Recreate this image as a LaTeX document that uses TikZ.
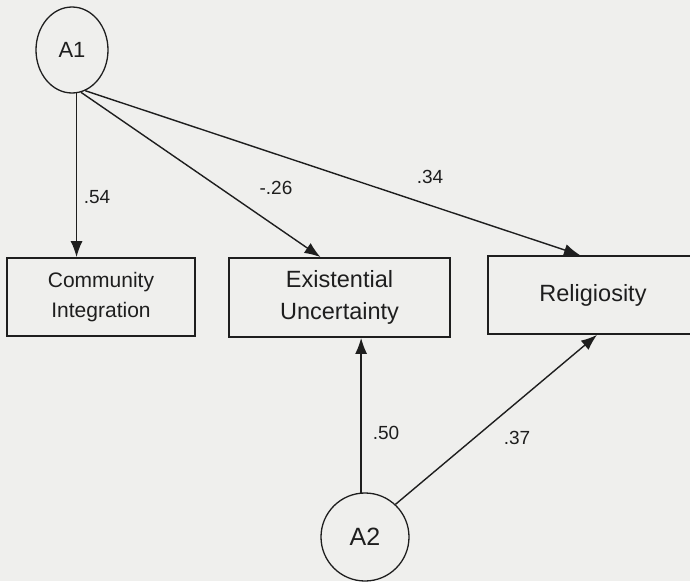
\documentclass[tikz,border=0pt]{standalone}
\usepackage{fontspec}
\setmainfont{Liberation Sans}
\usetikzlibrary{arrows.meta,shapes.geometric}
\definecolor{paper}{HTML}{EFEFED}
\definecolor{ink}{HTML}{1E1E1E}
\begin{document}
\begin{tikzpicture}[x=1pt,y=-1pt,
  latent/.style={draw=ink,line width=1.3pt,ellipse,inner sep=0pt,text=ink},
  measured/.style={draw=ink,line width=1.8pt,rectangle,inner sep=0pt,align=center,text=ink},
  path/.style={draw=ink,line width=1.4pt,-{Latex[length=16pt,width=12pt]}},
  coef/.style={text=ink,font=\fontsize{19}{19}\selectfont,inner sep=0pt}]
  % page
  \fill[paper] (0,0) rectangle (690,581);
  \useasboundingbox (0,0) rectangle (690,581);

  % latent factors
  \node[latent,minimum width=72pt,minimum height=86pt,font=\fontsize{22}{22}\selectfont] (A1) at (72,50) {A1};
  \node[latent,minimum width=88pt,minimum height=88pt,font=\fontsize{25}{25}\selectfont] (A2) at (365,537) {A2};

  % observed variables
  \node[measured,minimum width=188pt,minimum height=78pt,font=\fontsize{21}{30}\selectfont] (com) at (101,297) {Community\\Integration};
  \node[measured,minimum width=221pt,minimum height=79pt,font=\fontsize{23.5}{32}\selectfont] (ex) at (339.5,297.5) {Existential\\Uncertainty};
  \node[measured,minimum width=210pt,minimum height=78pt,font=\fontsize{23.5}{32}\selectfont] (rel) at (593,295) {Religiosity};

  % paths from A1
  \draw[path] (A1.-84) -- (A1.-84 |- com.north);
  \draw[path] (A1.-78) -- ([xshift=-19pt]ex.north);
  \draw[path] (A1.-72) -- ([xshift=-13pt]rel.north);

  % paths from A2
  \draw[path] (A2.95) -- (A2.95 |- ex.south);
  \draw[path] (A2.47) -- ([xshift=4pt]rel.south);

  % path coefficients
  \node[coef] (c1) at (97,197) {.54};
  \node[coef] (c2) at (276,188) {-.26};
  \node[coef] (c3) at (430,177) {.34};
  \node[coef] (c4) at (386,433) {.50};
  \node[coef] (c5) at (517,438) {.37};
\end{tikzpicture}
\end{document}
